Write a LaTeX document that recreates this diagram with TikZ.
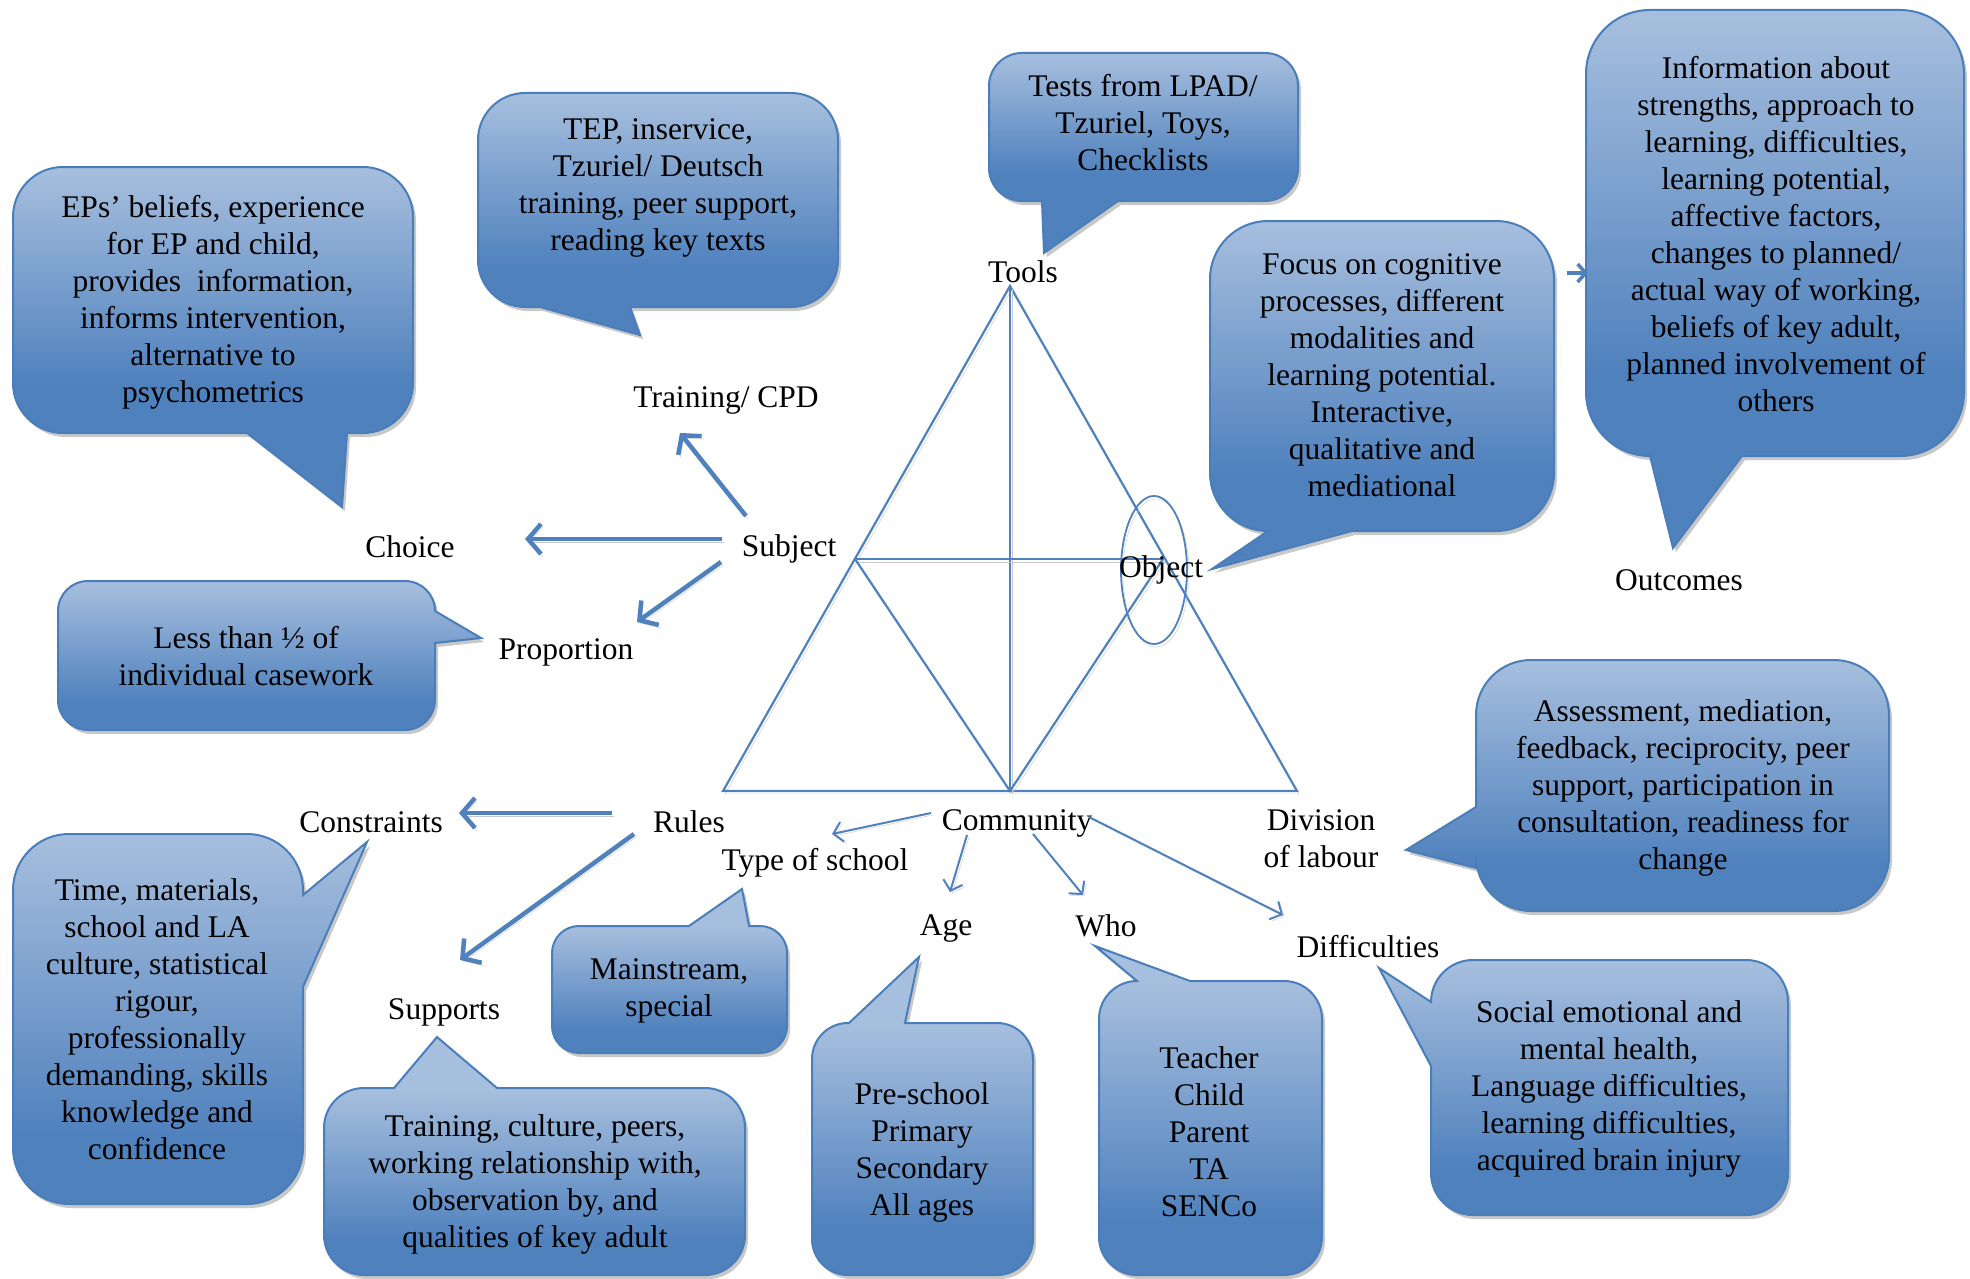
\documentclass[tikz,border=0pt]{standalone}
\usepackage{fontspec}
\setmainfont{Liberation Serif}
\usetikzlibrary{arrows.meta,calc}

\definecolor{bubTop}{RGB}{167,191,222}
\definecolor{bubBot}{RGB}{79,129,189}
\definecolor{bubEdge}{RGB}{74,126,187}
\definecolor{lineBlue}{RGB}{79,129,189}
\definecolor{shadowGray}{RGB}{200,200,200}

\pgfdeclareverticalshading{bubshade}{100bp}{color(0bp)=(bubBot); color(25bp)=(bubBot); color(34bp)=(bubBot); color(75bp)=(bubTop); color(100bp)=(bubTop)}

% Rounded speech bubble: box (#1,#2)-(#3,#4), corner radius #5,
% tail fragments inserted on the top (#6), right (#7), bottom (#8) and left (#9) edges
\newcommand\speech[9]{%
  \def\bpath{({#1+#5},#2) #6 -- ({#3-#5},#2)
    .. controls ({#3-0.4477*#5},#2) and (#3,{#2+0.4477*#5}) .. (#3,{#2+#5}) #7
    -- (#3,{#4-#5})
    .. controls (#3,{#4-0.4477*#5}) and ({#3-0.4477*#5},#4) .. ({#3-#5},#4) #8
    -- ({#1+#5},#4)
    .. controls ({#1+0.4477*#5},#4) and (#1,{#4-0.4477*#5}) .. (#1,{#4-#5}) #9
    -- (#1,{#2+#5})
    .. controls (#1,{#2+0.4477*#5}) and ({#1+0.4477*#5},#2) .. ({#1+#5},#2) -- cycle}%
  \fill[shadowGray, transform canvas={shift={(3pt,-4pt)}}] \bpath;
  \begin{scope}
    \clip \bpath;
    \fill[bubTop] (0,0) rectangle (1970,#2);
    \fill[bubBot] (0,#4) rectangle (1970,1279);
    \shade[shading=bubshade] (0,#2) rectangle (1970,#4);
  \end{scope}
  \draw[bubEdge, line width=2pt] \bpath;
}

\tikzset{
  txt/.style={font=\fontsize{31.5}{37}\selectfont, align=center, inner sep=0pt},
  tri/.style={draw=lineBlue, line width=2.2pt,
    preaction={draw=shadowGray, transform canvas={shift={(2pt,-3pt)}}}},
  thickarrow/.style={draw=lineBlue, line width=4.5pt,
    -{Straight Barb[length=13pt,width=30pt]},
    preaction={draw=shadowGray, transform canvas={shift={(2pt,-3pt)}}}},
  thinarrow/.style={draw=lineBlue, line width=2pt,
    -{Straight Barb[length=9pt,width=20pt]},
    preaction={draw=shadowGray, transform canvas={shift={(2pt,-2pt)}}}},
}

\begin{document}
\begin{tikzpicture}[x=1pt,y=-1pt]
\fill[white] (0,0) rectangle (1970,1279);
\useasboundingbox (0,0) rectangle (1970,1279);

% activity triangle
\coordinate (apex) at (1010,286);
\coordinate (bl) at (723,791);
\coordinate (br) at (1297,791);
\coordinate (bm) at (1010,791);
\coordinate (sv) at (855,559);
\coordinate (ov) at (1163,559);
\coordinate (objring) at (1154,570);
\draw[tri] (apex) -- (bl) -- (br) -- cycle;
\draw[tri] (apex) -- (bm);
\draw[tri] (sv) -- (ov);
\draw[tri] (sv) -- (bm) -- (ov);
\draw[tri, line width=1.8pt] (objring) ellipse [x radius=33, y radius=74];

% labels
\node[txt] (tools) at (1023,272) {Tools};
\node[txt] (training) at (726,400) {Training/ CPD};
\node[txt] (subject) at (789,549) {Subject};
\node[txt] (choice) at (410,547) {Choice};
\node[txt] (proportion) at (566,652) {Proportion};
\node[txt] (object) at (1161,570) {Object};
\node[txt] (outcomes) at (1679,580) {Outcomes};
\node[txt] (constraints) at (371,822) {Constraints};
\node[txt] (rules) at (689,822) {Rules};
\node[txt] (community) at (1017,823) {Community};
\node[txt] (typeschool) at (815,863) {Type of school};
\node[txt] (division) at (1321,839) {Division\\of labour};
\node[txt] (age) at (946,928) {Age};
\node[txt] (who) at (1106,926) {Who};
\node[txt] (difficulties) at (1368,947) {Difficulties};
\node[txt] (supports) at (444,1012) {Supports};

% arrows
\draw[thickarrow] ($(subject)+(-43,-33)$) -- ($(training)+(-46,33)$);
\draw[thickarrow] ($(subject)+(-67,-10)$) -- ($(choice)+(115,-8)$);
\draw[thickarrow] ($(subject)+(-68,13)$) -- ($(proportion)+(71,-30)$);
\draw[thickarrow] ($(rules)+(-77,-9)$) -- ($(constraints)+(88,-9)$);
\draw[thickarrow] ($(rules)+(-55,12)$) -- ($(supports)+(16,-52)$);
\draw[thinarrow] ($(community)+(-86,-10)$) -- ($(typeschool)+(17,-29)$);
\draw[thinarrow] ($(community)+(-50,12)$) -- ($(age)+(4,-36)$);
\draw[thinarrow] ($(community)+(16,11)$) -- ($(who)+(-23,-31)$);
\draw[thinarrow] ($(community)+(72,-6)$) -- ($(difficulties)+(-85,-32)$);
\coordinate (oaStart) at (1567,273);
\coordinate (oaEnd) at (1588,273);
\draw[draw=lineBlue, line width=3.5pt, -{Straight Barb[length=8pt,width=18pt]}] (oaStart) -- (oaEnd);

% speech bubbles
\speech{13}{167}{413}{433}{50}{}{}{-- (347,433) -- (342,507) -- (247,433)}{}
\speech{478}{93}{838}{307}{47}{}{}{-- (630,307) -- (640,335) -- (540,307)}{}
\speech{989}{53}{1298}{201}{33}{}{}{-- (1118,201) -- (1044,253) -- (1042,201)}{}
\speech{1210}{221}{1554}{531}{58}{}{}{-- (1352,531) -- (1212,569) -- (1268,531)}{}
\speech{1586}{10}{1964}{456}{64}{}{}{-- (1742,456) -- (1673,548) -- (1650,456)}{}
\speech{58}{581}{435}{730}{30}{}{-- (435,611) -- (481,638) -- (435,643)}{}{}
\speech{13}{834}{303}{1204}{56}{}{-- (303,895) -- (367,842) -- (303,987)}{}{}
\speech{552}{926}{787}{1053}{27}{-- (689,926) -- (742,889) -- (749,926)}{}{}{}
\speech{324}{1088}{745}{1275}{40}{-- (394,1088) -- (437,1037) -- (497,1088)}{}{}{}
\speech{812}{1023}{1033}{1275}{36}{-- (849,1023) -- (919,957) -- (905,1023)}{}{}{}
\speech{1099}{981}{1322}{1275}{38}{-- (1137,981) -- (1095,946) -- (1190,981)}{}{}{}
\speech{1476}{660}{1889}{911}{55}{}{}{}{-- (1476,868) -- (1406,850) -- (1476,807)}
\speech{1431}{960}{1788}{1215}{42}{}{}{}{-- (1431,1066) -- (1379,968) -- (1431,1002)}

% bubble texts
\node[txt] (epsNote) at (213,302) {EPs’ beliefs, experience\\for EP and child,\\provides~ information,\\informs intervention,\\alternative to\\psychometrics};
\node[txt] (trainNote) at (658,188) {TEP, inservice,\\Tzuriel/ Deutsch\\training, peer support,\\reading key texts};
\node[txt] (toolsNote) at (1143,123) {Tests from LPAD/\\Tzuriel, Toys,\\Checklists};
\node[txt] (objectNote) at (1382,375) {Focus on cognitive\\processes, different\\modalities and\\learning potential.\\Interactive,\\qualitative and\\mediational};
\node[txt] (outcomeNote) at (1776,234) {Information about\\strengths, approach to\\learning, difficulties,\\learning potential,\\affective factors,\\changes to planned/\\actual way of working,\\beliefs of key adult,\\planned involvement of\\others};
\node[txt] (propNote) at (246,656) {Less than ½ of\\individual casework};
\node[txt] (constrNote) at (157,1019) {Time, materials,\\school and LA\\culture, statistical\\rigour,\\professionally\\demanding, skills\\knowledge and\\confidence};
\node[txt] (schoolNote) at (669,991) {Mainstream,\\special};
\node[txt] (supportNote) at (535,1184) {Training, culture, peers,\\working relationship with,\\observation by, and\\qualities of key adult};
\node[txt] (ageNote) at (922,1152) {Pre-school\\Primary\\Secondary\\All ages};
\node[txt] (whoNote) at (1209,1132) {Teacher\\Child\\Parent\\TA\\SENCo};
\node[txt] (labourNote) at (1683,788) {Assessment, mediation,\\feedback, reciprocity, peer\\support, participation in\\consultation, readiness for\\change};
\node[txt] (diffNote) at (1609,1089) {Social emotional and\\mental health,\\Language difficulties,\\learning difficulties,\\acquired brain injury};
\end{tikzpicture}
\end{document}
